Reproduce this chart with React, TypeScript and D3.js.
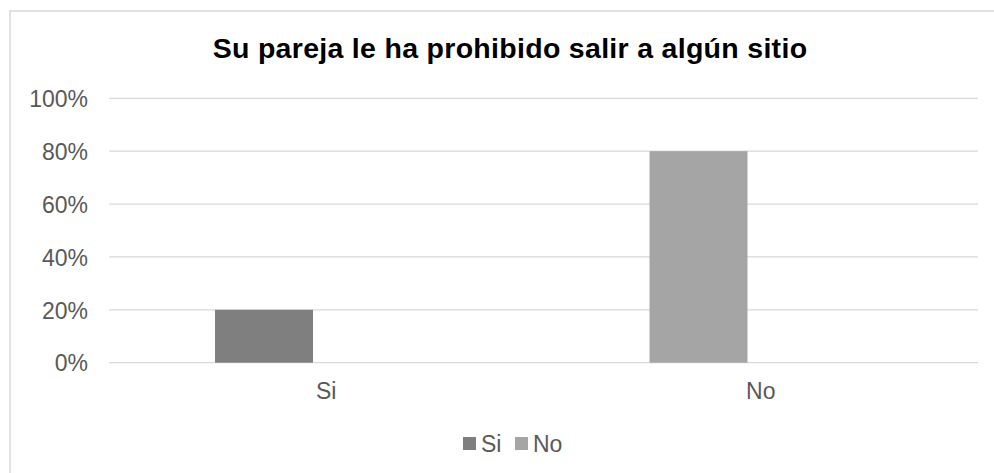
import { useEffect, useRef } from 'react'
import * as d3 from 'd3'

const categories = ['Si', 'No']
const seriesNames = ['Si', 'No']
const siValues = [0.2, 0]
const noValues = [0, 0.8]
const yTicks = [0, 0.2, 0.4, 0.6, 0.8, 1]
const title = 'Su pareja le ha prohibido salir a algún sitio'

const seriesColors = ['#7f7f7f', '#a5a5a5']
const FONT = '"Liberation Sans", Arial, sans-serif'

const width = 994
const height = 473
const margin = { top: 98.3, right: 16, bottom: 110.3, left: 109 }

const App = () => {
  const yAxisRef = useRef<SVGGElement>(null)

  const xScale = d3
    .scaleBand<string>()
    .domain(categories)
    .range([margin.left, width - margin.right])
    .padding(0)

  const yScale = d3
    .scaleLinear()
    .domain([0, 1])
    .range([height - margin.bottom, margin.top])

  const bw = xScale.bandwidth()
  const barOffset = bw * 0.244
  const barWidth = bw * 0.2255

  const series = [siValues, noValues]
  const bars = series.flatMap((vals, s) =>
    vals.map((v, i) => ({
      key: `${s}-${i}`,
      x: (xScale(categories[i]) as number) + barOffset,
      y: yScale(v),
      height: yScale(0) - yScale(v),
      fill: seriesColors[s],
    }))
  )

  useEffect(() => {
    if (!yAxisRef.current) return
    const yAxis = d3
      .axisLeft(yScale)
      .tickValues(yTicks)
      .tickFormat(d => d3.format('.0%')(d as number))
      .tickSize(0)
      .tickPadding(21)
    const g = d3.select(yAxisRef.current)
    g.call(yAxis)
    g.select('.domain').remove()
    g.selectAll('text')
      .attr('font-family', FONT)
      .attr('font-size', 23)
      .attr('fill', '#595959')
      .attr('dy', '0.36em')
  }, [])

  return (
    <svg
      width={width}
      height={height}
      style={{ position: 'absolute', left: 0, top: 0, background: '#fff' }}
    >
      <rect x={10} y={11} width={1002} height={480} fill="#fff" stroke="#d9d9d9" strokeWidth={1.5} />
      <text
        x={510}
        y={57.5}
        textAnchor="middle"
        fontFamily={FONT}
        fontSize={28.5}
        fontWeight="bold"
        letterSpacing={0.3}
        fill="#000"
      >
        {title}
      </text>
      {yTicks.map(t => (
        <line
          key={t}
          x1={margin.left}
          x2={width - margin.right}
          y1={yScale(t)}
          y2={yScale(t)}
          stroke="#d9d9d9"
          strokeWidth={1.3}
        />
      ))}
      {bars.map(b => (
        <rect key={b.key} x={b.x} y={b.y} width={barWidth} height={b.height} fill={b.fill} />
      ))}
      <g ref={yAxisRef} transform={`translate(${margin.left}, 0)`} />
      {categories.map(c => (
        <text
          key={c}
          x={(xScale(c) as number) + bw / 2}
          y={399}
          textAnchor="middle"
          fontFamily={FONT}
          fontSize={23}
          fill="#595959"
        >
          {c}
        </text>
      ))}
      <g transform="translate(463, 437)">
        {seriesNames.map((n, i) => (
          <g key={n} transform={`translate(${i * 52}, 0)`}>
            <rect width={13} height={13} fill={seriesColors[i]} />
            <text x={18} y={14.5} fontFamily={FONT} fontSize={23} fill="#595959">
              {n}
            </text>
          </g>
        ))}
      </g>
    </svg>
  )
}

export default App
